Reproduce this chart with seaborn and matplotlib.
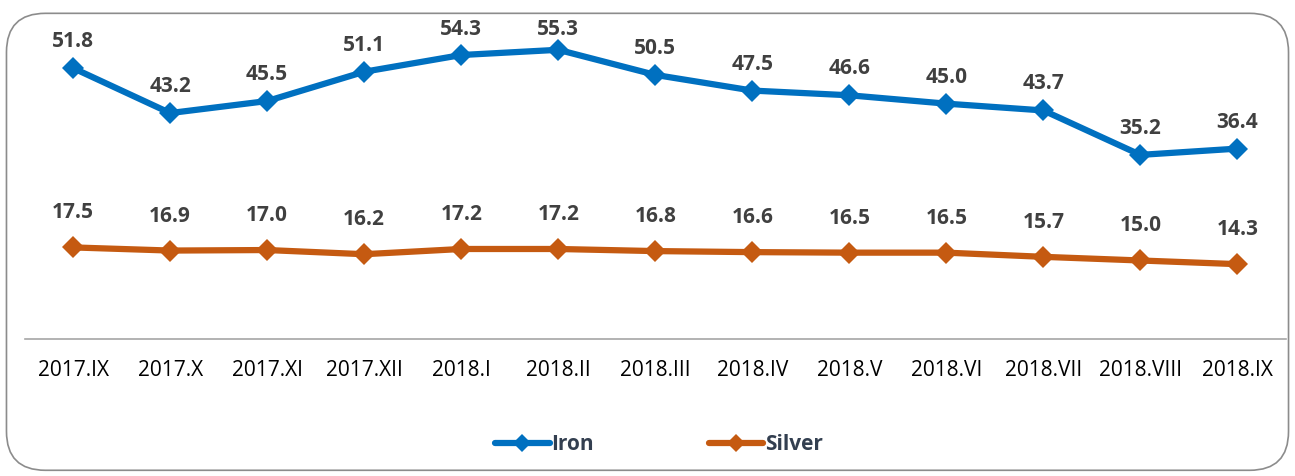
import matplotlib.pyplot as plt
import seaborn as sns
import pandas as pd
from matplotlib.patches import FancyBboxPatch
from matplotlib.lines import Line2D

# months and the two series
months = ["2017.IX", "2017.X", "2017.XI", "2017.XII", "2018.I", "2018.II", "2018.III",
          "2018.IV", "2018.V", "2018.VI", "2018.VII", "2018.VIII", "2018.IX"]
iron = [51.8, 43.2, 45.5, 51.1, 54.3, 55.3, 50.5, 47.5, 46.6, 45.0, 43.7, 35.2, 36.4]
silver = [17.5, 16.9, 17.0, 16.2, 17.2, 17.2, 16.8, 16.6, 16.5, 16.5, 15.7, 15.0, 14.3]

df = pd.DataFrame({
    "month": months * 2,
    "value": iron + silver,
    "metal": ["Iron"] * len(months) + ["Silver"] * len(months),
})

sns.set_style("white")
plt.rcParams["font.family"] = ["Open Sans", "DejaVu Sans"]

fig = plt.figure(figsize=(12.95, 4.76), dpi=100)
ax = fig.add_axes([0.019, 0.288, 0.974, 0.659])

palette = {"Iron": "#0070C0", "Silver": "#C55A11"}
sns.lineplot(data=df, x="month", y="value", hue="metal", palette=palette,
             marker="D", markersize=11.5, linewidth=4.5, markeredgewidth=0,
             sort=False, ax=ax, legend=False)

ax.set_xlim(-0.5, len(months) - 0.5)
ax.set_ylim(0, 60)

# data labels, kept inside the frame near the top
top_px = fig.bbox.height - 40
for vals, gap in [(iron, 16), (silver, 24)]:
    for i, v in enumerate(vals):
        y_px = ax.transData.transform((i, v))[1]
        g = min(gap, top_px - y_px)
        ax.annotate(f"{v:.1f}", (i, v), textcoords="offset points", xytext=(0, g * 0.72),
                    ha="center", va="bottom", fontsize=15, fontweight="bold", color="#404040")

ax.set_yticks([])
ax.set_xlabel("")
ax.set_ylabel("")
for s in ["top", "right", "left"]:
    ax.spines[s].set_visible(False)
ax.spines["bottom"].set_color("#a6a6a6")
ax.spines["bottom"].set_linewidth(1.2)
ax.tick_params(axis="x", length=0, pad=15, labelsize=15, labelcolor="#000000")

# legend
handles = [Line2D([], [], color=palette[m], marker="D", markersize=9, linewidth=4.5,
                  markeredgewidth=0, solid_capstyle="round") for m in ["Iron", "Silver"]]
leg = fig.legend(handles, ["Iron", "Silver"], loc="center", bbox_to_anchor=(0.509, 0.066),
                 ncol=2, frameon=False, handlelength=2.6, handletextpad=0.1,
                 columnspacing=5.5, prop={"size": 15, "weight": "bold"})
for t in leg.get_texts():
    t.set_color("#333f50")

# rounded frame
frame = FancyBboxPatch((0.005, 0.012), 0.99, 0.96, boxstyle="round,pad=0,rounding_size=0.03",
                       transform=fig.transFigure, fill=False, edgecolor="#8c8c8c",
                       linewidth=1.2, mutation_aspect=1295 / 476)
fig.patches.append(frame)

fig.savefig("out.png", dpi=100)
